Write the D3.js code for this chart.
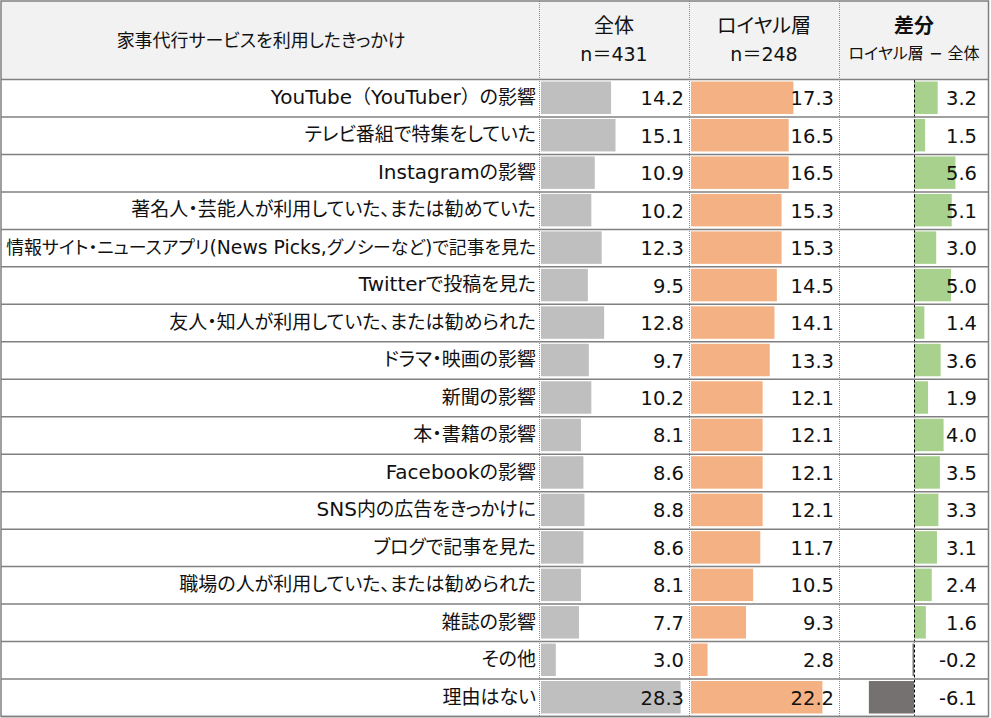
<!DOCTYPE html>
<html><head><meta charset="utf-8">
<script src="https://cdn.jsdelivr.net/npm/d3@7"></script>
<style>
html,body{margin:0;padding:0;background:#fff;}
svg{display:block;font-family:"DejaVu Sans","Noto Sans CJK JP",sans-serif;}
.p{font-feature-settings:"palt";}
</style></head>
<body><svg id="c" width="991" height="718"></svg>
<script>
const labels = ["YouTube（YouTuber）の影響","テレビ番組で特集をしていた","Instagramの影響","著名人・芸能人が利用していた、または勧めていた","情報サイト・ニュースアプリ(News Picks,グノシーなど)で記事を見た","Twitterで投稿を見た","友人・知人が利用していた、または勧められた","ドラマ・映画の影響","新聞の影響","本・書籍の影響","Facebookの影響","SNS内の広告をきっかけに","ブログで記事を見た","職場の人が利用していた、または勧められた","雑誌の影響","その他","理由はない"];
const total = [14.2,15.1,10.9,10.2,12.3,9.5,12.8,9.7,10.2,8.1,8.6,8.8,8.6,8.1,7.7,3.0,28.3];
const loyal = [17.3,16.5,16.5,15.3,15.3,14.5,14.1,13.3,12.1,12.1,12.1,12.1,11.7,10.5,9.3,2.8,22.2];
const diff = [3.2,1.5,5.6,5.1,3.0,5.0,1.4,3.6,1.9,4.0,3.5,3.3,3.1,2.4,1.6,-0.2,-6.1];
const headTitle = "家事代行サービスを利用したきっかけ";
const headTotal = ["全体","n＝431"];
const headLoyal = ["ロイヤル層","n＝248"];
const headDiff = ["差分","ロイヤル層 − 全体"];

(function(){
const svg = d3.select("#c");
const T = 79.5, B = 716.5, L = 1, R = 988.5;
const c1 = 539.5, c2 = 689.5, c3 = 839.5;
const grid = "#808080";

svg.append("rect").attr("x",L).attr("y",1).attr("width",R-L).attr("height",T-1).attr("fill","#f2f2f2");

const y = d3.scaleBand().domain(d3.range(labels.length)).range([T,B]);
const xT = d3.scaleLinear().domain([0,30]).range([541,689]);
const xL = d3.scaleLinear().domain([0,25]).range([691,839]);
const xD = d3.scaleLinear().domain([-10,10]).range([840,988]);

const bt = 2, bb = 3;
svg.append("g").selectAll("rect").data(total).join("rect")
  .attr("x",xT(0)).attr("y",(d,i)=>y(i)+bt).attr("width",d=>xT(d)-xT(0)).attr("height",y.bandwidth()-bt-bb).attr("fill","#bfbfbf");
svg.append("g").selectAll("rect").data(loyal).join("rect")
  .attr("x",xL(0)).attr("y",(d,i)=>y(i)+bt).attr("width",d=>xL(d)-xL(0)).attr("height",y.bandwidth()-bt-bb).attr("fill","#f4b183");
svg.append("g").selectAll("rect").data(diff).join("rect")
  .attr("x",d=>xD(Math.min(0,d))).attr("y",(d,i)=>y(i)+bt).attr("width",d=>Math.abs(xD(d)-xD(0))).attr("height",y.bandwidth()-bt-bb)
  .attr("fill",d=>d>=0?"#a9d18e":"#767171");

svg.append("line").attr("x1",xD(0)+0.5).attr("x2",xD(0)+0.5).attr("y1",T).attr("y2",B)
  .attr("stroke","#000").attr("stroke-width",1).attr("stroke-dasharray","3,2");

function segs(s){
  const out=[]; const re=/([\x20-\x7e]+)|([（）]+)|([^\x20-\x7e（）]+)/g; let m;
  while((m=re.exec(s))){ out.push({t:m[0], k:m[1]?"lat":(m[2]?"fw":"cjk")}); }
  return out;
}
function richText(sel, s, base, latSize){
  segs(s).forEach(sg=>{
    const ts = sel.append("tspan").text(sg.t);
    if(sg.k==="lat") ts.attr("font-size",latSize);
    else { ts.attr("font-size",base); if(sg.k==="cjk") ts.attr("class","p"); }
  });
}

const fs = 19, lfs = 20;
const maxW = 530;
labels.forEach((lab,i)=>{
  const t = svg.append("text").attr("x",536).attr("y",y(i)+y.bandwidth()/2).attr("dy","0.36em")
    .attr("text-anchor","end").attr("fill","#111");
  richText(t, lab, fs, lfs);
  const w = t.node().getComputedTextLength();
  if(w>maxW){
    const k = maxW/w;
    t.selectAll("tspan").each(function(){ const e=d3.select(this); e.attr("font-size",+e.attr("font-size")*k); });
  }
});
const fmt = d=>d3.format(".1f")(d).replace("\u2212","-");
[[total,684],[loyal,834],[diff,977]].forEach(([arr,xx])=>{
  svg.append("g").selectAll("text").data(arr).join("text")
    .attr("x",xx).attr("y",(d,i)=>y(i)+y.bandwidth()/2).attr("dy","0.36em").attr("text-anchor","end")
    .attr("font-size",19.5).attr("fill","#111").text(d=>fmt(d));
});

const ht = svg.append("text").attr("x",261).attr("y",41).attr("dy","0.36em").attr("text-anchor","middle").attr("fill","#111");
richText(ht, headTitle, 18, 18);
[[headTotal,614],[headLoyal,764]].forEach(([h,cx])=>{
  const a = svg.append("text").attr("x",cx).attr("y",27.5).attr("dy","0.36em").attr("text-anchor","middle").attr("fill","#111");
  richText(a, h[0], 20, 20);
  const b = svg.append("text").attr("x",cx).attr("y",55).attr("dy","0.36em").attr("text-anchor","middle").attr("fill","#111");
  richText(b, h[1], 19, 19);
});
const d1 = svg.append("text").attr("x",914).attr("y",27).attr("dy","0.36em").attr("text-anchor","middle").attr("font-weight","bold").attr("fill","#111");
richText(d1, headDiff[0], 20, 20);
const d2 = svg.append("text").attr("x",914).attr("y",53).attr("dy","0.36em").attr("text-anchor","middle").attr("fill","#111");
richText(d2, headDiff[1], 16, 16);

const hl = [T].concat(d3.range(labels.length).map(i=>y(i)+y.bandwidth()));
svg.append("g").selectAll("line").data(hl).join("line")
  .attr("x1",L).attr("x2",R).attr("y1",d=>d).attr("y2",d=>d).attr("stroke",grid).attr("stroke-width",1.5);
svg.append("g").selectAll("line").data([c1,c2,c3]).join("line")
  .attr("x1",d=>d).attr("x2",d=>d).attr("y1",1).attr("y2",B).attr("stroke","#8c8c8c").attr("stroke-width",1).attr("stroke-dasharray","1,1");
svg.append("rect").attr("x",L).attr("y",1).attr("width",R-L).attr("height",B-1).attr("fill","none").attr("stroke",grid).attr("stroke-width",1.5);
})();
</script></body></html>
